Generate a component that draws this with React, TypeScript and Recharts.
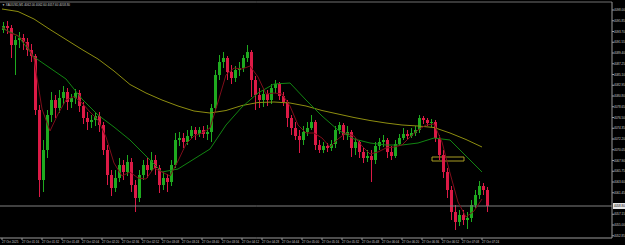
import * as React from "react"
import { ComposedChart, Bar, Line, XAxis, YAxis, ReferenceLine, ReferenceArea } from "recharts"

const symbol = "XAUUSD,M1"

// one candle per slot
const opens = [
  4094.0, 4094.8, 4094.4, 4091.0, 4092.0, 4092.4, 4091.6, 4090.0, 4088.8, 4078.0,
  4064.0, 4070.0, 4077.0, 4080.0, 4078.4, 4080.4, 4081.6, 4079.6, 4080.4, 4081.4,
  4078.8, 4076.4, 4075.6, 4076.0, 4076.8, 4075.0, 4070.0, 4065.0, 4062.4, 4064.4,
  4067.0, 4065.6, 4067.6, 4063.0, 4060.4, 4065.0, 4067.0, 4066.0, 4068.0, 4066.4,
  4063.0, 4064.4, 4063.6, 4067.0, 4072.0, 4072.4, 4071.6, 4072.8, 4074.0, 4073.2,
  4074.0, 4073.2, 4073.6, 4078.4, 4085.0, 4087.6, 4088.4, 4085.6, 4084.4, 4086.0,
  4086.4, 4088.4, 4089.6, 4084.0, 4081.0, 4080.0, 4081.2, 4080.0, 4082.4, 4083.2,
  4080.8, 4079.6, 4076.4, 4074.4, 4072.8, 4072.0, 4073.6, 4074.4, 4075.6, 4071.0,
  4070.0, 4070.8, 4070.4, 4071.2, 4074.0, 4075.0, 4073.0, 4073.6, 4070.4, 4071.6,
  4069.6, 4068.4, 4068.8, 4068.0, 4070.8, 4071.6, 4072.0, 4069.6, 4068.8, 4071.2,
  4072.4, 4073.2, 4072.8, 4073.4, 4074.0, 4076.4, 4076.0, 4075.4, 4075.6, 4072.4,
  4069.0, 4065.6, 4062.0, 4057.6, 4055.6, 4057.0, 4056.0, 4056.4, 4059.0, 4061.0,
  4062.8, 4062.0,
]
const highs = [
  4095.6, 4095.8, 4095.0, 4092.8, 4093.6, 4093.2, 4092.4, 4091.2, 4089.2, 4079.0,
  4072.0, 4078.0, 4081.6, 4081.0, 4082.0, 4082.8, 4082.4, 4081.2, 4082.2, 4082.0,
  4079.6, 4077.6, 4077.0, 4077.6, 4077.6, 4075.6, 4071.0, 4066.0, 4066.0, 4068.4,
  4068.0, 4069.0, 4068.4, 4064.0, 4066.0, 4068.0, 4068.4, 4069.6, 4069.0, 4067.0,
  4065.6, 4065.2, 4068.0, 4073.4, 4073.6, 4073.4, 4074.0, 4074.8, 4074.6, 4074.6,
  4074.8, 4075.0, 4079.2, 4086.0, 4089.0, 4089.6, 4088.8, 4087.0, 4086.8, 4087.6,
  4089.0, 4091.0, 4090.0, 4084.8, 4082.4, 4082.0, 4082.0, 4083.2, 4084.0, 4083.6,
  4081.6, 4080.0, 4077.0, 4075.6, 4074.0, 4074.8, 4075.6, 4077.0, 4076.0, 4072.0,
  4071.6, 4071.4, 4072.0, 4074.8, 4075.6, 4075.4, 4074.8, 4074.0, 4072.4, 4072.0,
  4070.4, 4070.0, 4070.0, 4071.6, 4072.4, 4073.0, 4072.4, 4070.8, 4072.0, 4073.2,
  4074.4, 4074.0, 4074.4, 4074.8, 4077.0, 4076.8, 4076.4, 4076.2, 4076.0, 4073.0,
  4070.0, 4066.4, 4062.8, 4059.0, 4058.0, 4058.0, 4057.6, 4060.0, 4062.0, 4063.8,
  4063.4, 4062.6,
]
const lows = [
  4093.4, 4093.2, 4088.4, 4085.0, 4090.4, 4090.0, 4088.8, 4087.6, 4077.0, 4060.6,
  4061.6, 4068.4, 4075.6, 4076.4, 4077.4, 4079.0, 4078.0, 4078.4, 4079.2, 4077.6,
  4075.2, 4074.0, 4074.4, 4074.8, 4073.6, 4069.0, 4063.0, 4060.8, 4061.6, 4063.6,
  4064.0, 4064.8, 4061.6, 4057.6, 4059.6, 4064.0, 4064.4, 4065.6, 4065.0, 4061.4,
  4062.0, 4061.6, 4062.8, 4066.4, 4070.8, 4070.4, 4071.0, 4072.2, 4072.0, 4072.6,
  4072.4, 4072.0, 4071.6, 4077.6, 4084.0, 4086.4, 4084.0, 4083.2, 4083.6, 4084.8,
  4085.6, 4087.6, 4080.6, 4078.0, 4078.4, 4078.6, 4078.8, 4079.2, 4081.4, 4080.0,
  4078.8, 4074.6, 4073.0, 4072.0, 4069.4, 4071.0, 4072.8, 4074.0, 4070.0, 4069.4,
  4069.4, 4069.6, 4069.8, 4070.4, 4073.2, 4072.0, 4072.0, 4068.6, 4069.0, 4068.4,
  4067.4, 4067.6, 4063.6, 4067.2, 4070.0, 4070.6, 4068.4, 4068.0, 4068.4, 4070.8,
  4072.0, 4072.2, 4072.4, 4072.8, 4073.4, 4075.2, 4074.8, 4074.6, 4071.6, 4068.0,
  4064.4, 4060.4, 4056.0, 4054.0, 4054.8, 4055.0, 4054.2, 4055.6, 4058.4, 4060.2,
  4061.0, 4057.6,
]
const closes = [
  4094.8, 4094.4, 4091.0, 4092.0, 4092.4, 4091.6, 4090.0, 4088.8, 4078.0, 4064.0,
  4070.0, 4077.0, 4080.0, 4078.4, 4080.4, 4081.6, 4079.6, 4080.4, 4081.4, 4078.8,
  4076.4, 4075.6, 4076.0, 4076.8, 4075.0, 4070.0, 4065.0, 4062.4, 4064.4, 4067.0,
  4065.6, 4067.6, 4063.0, 4060.4, 4065.0, 4067.0, 4066.0, 4068.0, 4066.4, 4063.0,
  4064.4, 4063.6, 4067.0, 4072.0, 4072.4, 4071.6, 4072.8, 4074.0, 4073.2, 4074.0,
  4073.2, 4073.6, 4078.4, 4085.0, 4087.6, 4088.4, 4085.6, 4084.4, 4086.0, 4086.4,
  4088.4, 4089.6, 4084.0, 4081.0, 4080.0, 4081.2, 4080.0, 4082.4, 4083.2, 4080.8,
  4079.6, 4076.4, 4074.4, 4072.8, 4072.0, 4073.6, 4074.4, 4075.6, 4071.0, 4070.0,
  4070.8, 4070.4, 4071.2, 4074.0, 4075.0, 4073.0, 4073.6, 4070.4, 4071.6, 4069.6,
  4068.4, 4068.8, 4068.0, 4070.8, 4071.6, 4072.0, 4069.6, 4068.8, 4071.2, 4072.4,
  4073.2, 4072.8, 4073.4, 4074.0, 4076.4, 4076.0, 4075.4, 4075.6, 4072.4, 4069.0,
  4065.6, 4062.0, 4057.6, 4055.6, 4057.0, 4056.0, 4056.4, 4059.0, 4061.0, 4062.8,
  4062.0, 4058.8,
]

// moving averages, read every 4th bar (slow, mid) and every 2nd bar (fast)
const slowMa = [
  4098.2, 4097.7, 4096.2, 4094.1, 4092.1, 4090.1, 4088.2, 4085.8, 4083.1, 4081.4,
  4080.0, 4078.8, 4077.8, 4077.4, 4077.9, 4078.9, 4079.5, 4079.6, 4079.4, 4078.8,
  4077.9, 4077.2, 4076.5, 4075.9, 4075.4, 4075.0, 4074.8, 4074.5, 4073.4, 4072.1,
  4070.6,
]
const midMa = [
  4094.4, 4092.8, 4088.6, 4086.4, 4084.2, 4080.2, 4077.0, 4074.6, 4072.0, 4068.8,
  4065.6, 4066.2, 4068.2, 4070.2, 4075.0, 4078.6, 4081.4, 4083.2, 4083.4, 4080.0,
  4076.8, 4074.0, 4072.2, 4071.4, 4071.0, 4071.0, 4071.4, 4072.4, 4072.0, 4068.8,
  4065.6,
]
const fastMa = [
  4094.6, 4093.4, 4092.9, 4091.4, 4088.2, 4078.2, 4073.8, 4077.2, 4080.0, 4080.7,
  4079.4, 4077.6, 4076.0, 4072.6, 4067.4, 4064.8, 4065.6, 4064.4, 4064.2, 4066.4,
  4065.6, 4064.8, 4067.8, 4071.2, 4072.8, 4073.4, 4074.4, 4079.6, 4085.0, 4086.4,
  4086.2, 4086.8, 4084.6, 4081.2, 4081.4, 4081.2, 4078.8, 4075.0, 4073.4, 4073.4,
  4072.4, 4070.6, 4072.2, 4073.4, 4072.8, 4070.8, 4069.2, 4069.6, 4070.4, 4070.6,
  4071.0, 4072.6, 4074.0, 4075.0, 4075.2, 4071.6, 4065.4, 4059.6, 4056.6, 4057.8,
  4060.2,
]

const timeLabels = [
  "27 Oct 2025", "27 Oct 01:16", "27 Oct 01:32", "27 Oct 01:48", "27 Oct 02:04",
  "27 Oct 02:20", "27 Oct 02:36", "27 Oct 02:52", "27 Oct 03:08", "27 Oct 03:24",
  "27 Oct 03:40", "27 Oct 03:56", "27 Oct 04:12", "27 Oct 04:28", "27 Oct 04:44",
  "27 Oct 05:00", "27 Oct 05:16", "27 Oct 05:32", "27 Oct 05:48", "27 Oct 06:04",
  "27 Oct 06:20", "27 Oct 06:36", "27 Oct 06:52", "27 Oct 07:08", "27 Oct 07:24",
]
const priceTicks = [
  4098.0, 4095.85, 4093.7, 4091.55, 4089.4, 4087.25, 4085.1, 4082.95, 4080.8, 4078.65,
  4076.5, 4074.35, 4072.2, 4070.05, 4067.9, 4065.75, 4063.6, 4061.45, 4057.15, 4055.0,
  4052.85,
]

// drawn box on the chart
const boxFrom = 108
const boxTo = 115
const boxLow = 4067.8
const boxHigh = 4068.6

const SLOTS = 153
const LABEL_STEP = 5
const Y_MIN = 4052.4
const Y_MAX = 4099.6

const BULL = "#1faa1f"
const BEAR = "#dc1a46"
const TEXT = "#cfcfcf"
const FONT = "Liberation Sans, Arial, sans-serif"

const lastIdx = closes.length - 1
const lastPrice = closes[lastIdx]

const chartData = Array.from({ length: SLOTS }, (_, i) => ({
  i,
  open: opens[i] ?? null,
  high: highs[i] ?? null,
  low: lows[i] ?? null,
  close: closes[i] ?? null,
  slow: i % 4 === 0 ? slowMa[i / 4] ?? null : null,
  mid: i % 4 === 0 ? midMa[i / 4] ?? null : null,
  fast: i % 2 === 0 ? fastMa[i / 2] ?? null : null,
}))

const Candle = (props: any) => {
  const { x, y, width, height, payload } = props
  if (!payload || payload.open == null) return null
  const { open, close, high, low } = payload
  const top = Math.min(y, y + height)
  const span = Math.abs(height)
  const toPx = (v: number) => (high === low ? top : top + ((high - v) / (high - low)) * span)
  const color = close >= open ? BULL : BEAR
  const cx = Math.round(x + width / 2) + 0.5
  const bodyTop = toPx(Math.max(open, close))
  const bodyH = Math.max(1, Math.abs(toPx(open) - toPx(close)))
  return (
    <g>
      <line x1={cx} x2={cx} y1={top} y2={top + span} stroke={color} strokeWidth={1} />
      <rect x={cx - 1.5} y={bodyTop} width={3} height={bodyH} fill={color} />
    </g>
  )
}

const TimeTick = (props: any) => {
  const { x, y, payload } = props
  return (
    <text x={x} y={y} dy={3} fontSize={3} fill={TEXT} fontFamily={FONT} textAnchor="start">
      {timeLabels[payload.value / LABEL_STEP]}
    </text>
  )
}

const PriceTick = (props: any) => {
  const { x, y, payload } = props
  return (
    <text x={x} y={y} dy={1.1} fontSize={3} fill={TEXT} fontFamily={FONT} textAnchor="start">
      {payload.value.toFixed(2)}
    </text>
  )
}

const PriceTag = (props: any) => {
  const { viewBox } = props
  if (!viewBox) return null
  const right = viewBox.x + viewBox.width
  const yy = viewBox.y
  return (
    <g>
      <rect x={right + 1} y={yy - 3} width={14} height={6} fill="#e6e6e6" />
      <text x={right + 2} y={yy + 1.1} fontSize={3} fill="#000" fontFamily={FONT}>
        {lastPrice.toFixed(2)}
      </text>
    </g>
  )
}

export default function App() {
  const labelIdx = timeLabels.map((_, k) => k * LABEL_STEP)
  return (
    <div style={{ position: "absolute", left: 0, top: 0, width: 625, height: 245, background: "#000", overflow: "hidden" }}>
      <ComposedChart width={625} height={245} data={chartData} margin={{ top: 2, right: 0, left: 0, bottom: 0 }}>
        <XAxis
          dataKey="i"
          type="category"
          ticks={labelIdx}
          interval={0}
          height={7}
          tickSize={2}
          tickMargin={0}
          tick={<TimeTick />}
          tickLine={{ stroke: "#9a9a9a" }}
          axisLine={{ stroke: "#9a9a9a" }}
        />
        <YAxis
          orientation="right"
          type="number"
          domain={[Y_MIN, Y_MAX]}
          ticks={priceTicks}
          interval={0}
          allowDataOverflow
          width={13}
          tickSize={2}
          tickMargin={0}
          tick={<PriceTick />}
          tickLine={{ stroke: "#9a9a9a" }}
          axisLine={{ stroke: "#9a9a9a" }}
        />
        <ReferenceLine y={Y_MAX} stroke="#707070" strokeWidth={1} />
        <ReferenceLine y={lastPrice} stroke="#808080" strokeWidth={1} label={<PriceTag />} />
        <Bar
          dataKey={(d: any) => (d.low == null ? null : [d.low, d.high])}
          barSize={3}
          shape={<Candle />}
          isAnimationActive={false}
        />
        <Line dataKey="slow" stroke="#8e8e10" strokeWidth={1} dot={false} connectNulls isAnimationActive={false} />
        <Line dataKey="mid" stroke="#128512" strokeWidth={1} dot={false} connectNulls isAnimationActive={false} />
        <Line dataKey="fast" stroke="#7e0d1a" strokeWidth={1} dot={false} connectNulls isAnimationActive={false} />
        <ReferenceArea
          x1={boxFrom}
          x2={boxTo}
          y1={boxLow}
          y2={boxHigh}
          stroke="#a89c22"
          strokeWidth={1}
          fill="none"
          fillOpacity={0}
        />
      </ComposedChart>
      <svg width={625} height={10} style={{ position: "absolute", left: 0, top: 0 }}>
        <text x={2} y={6} fontSize={3} fill={TEXT} fontFamily={FONT}>
          {`\u25BC ${symbol}  ${opens[lastIdx].toFixed(2)} ${highs[lastIdx].toFixed(2)} ${lows[lastIdx].toFixed(2)} ${lastPrice.toFixed(2)}`}
        </text>
      </svg>
    </div>
  )
}
